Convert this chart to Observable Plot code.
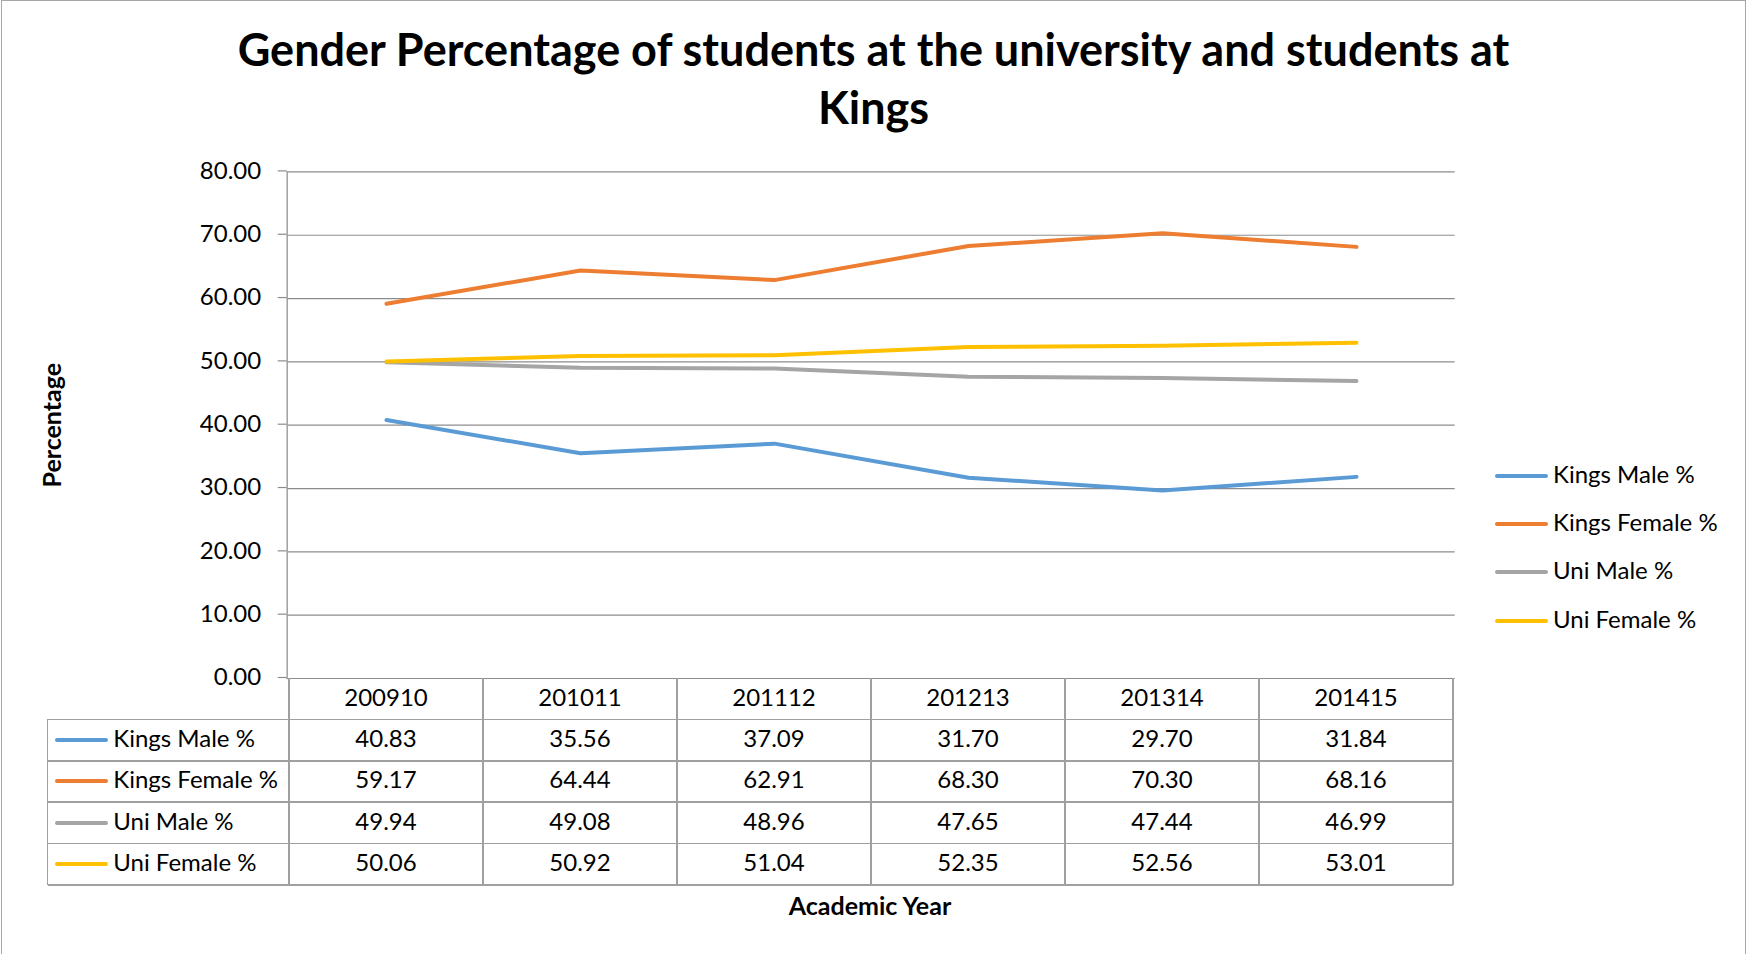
<!DOCTYPE html>
<html>
<head>
<meta charset="utf-8">
<script src="https://cdn.jsdelivr.net/npm/d3@7"></script>
<script src="https://cdn.jsdelivr.net/npm/@observablehq/plot@0.6"></script>
<style>
  html, body { margin: 0; padding: 0; background: #fff; }
  #wrap { position: relative; width: 1747px; height: 954px; overflow: hidden; font-family: Lato, "Open Sans", sans-serif; color: #000; background: #fff; }
  #border { position: absolute; left: 1px; top: 0px; width: 1743px; height: 960px; border: 1.5px solid #a6a6a6; pointer-events: none; }
  #title { height: 150px; box-sizing: border-box; padding-top: 20.3px; text-align: center; font-weight: bold; font-size: 45px; line-height: 58px; }
  #chart svg { display: block; }
  .hline { position: absolute; height: 1.5px; background: #a0a0a0; }
  .vline { position: absolute; width: 1.5px; background: #a0a0a0; }
  .cell { position: absolute; display: flex; align-items: center; justify-content: center; font-size: 24px; white-space: nowrap; }
  .lcell { position: absolute; display: flex; align-items: center; font-size: 24px; white-space: nowrap; }
  .txt { position: relative; top: -2.5px; }
  .swatch { display: inline-block; height: 4px; border-radius: 2px; }
</style>
</head>
<body>
<div id="wrap">
  <div id="title">Gender Percentage of students at the university and students at<br>Kings</div>
  <div id="chart"></div>
  <div id="border"></div>
</div>
<script>
// ---- data ----
const years = ["200910", "201011", "201112", "201213", "201314", "201415"];
const seriesNames = ["Kings Male %", "Kings Female %", "Uni Male %", "Uni Female %"];
const seriesColors = ["#5B9BD5", "#ED7D31", "#A5A5A5", "#FFC000"];
const kingsMale = [40.83, 35.56, 37.09, 31.70, 29.70, 31.84];
const kingsFemale = [59.17, 64.44, 62.91, 68.30, 70.30, 68.16];
const uniMale = [49.94, 49.08, 48.96, 47.65, 47.44, 46.99];
const uniFemale = [50.06, 50.92, 51.04, 52.35, 52.56, 53.01];
const yTicks = [0, 10, 20, 30, 40, 50, 60, 70, 80];
const yLabel = "Percentage";
const xLabel = "Academic Year";

const seriesValues = [kingsMale, kingsFemale, uniMale, uniFemale];
const data = seriesNames.flatMap((s, i) => years.map((y, j) => ({ year: y, series: s, value: seriesValues[i][j] })));

const TITLE_H = 150;
const gray = "#8c8c8c";

const chart = Plot.plot({
  width: 1747,
  height: 804,
  marginLeft: 286.7,
  marginRight: 292.3,
  marginTop: 21.4,
  marginBottom: 276,
  style: { fontFamily: "Lato, 'Open Sans', sans-serif", fontSize: "24px", color: "#000", background: "transparent", overflow: "visible" },
  x: { type: "point", domain: years, padding: 0.5, axis: null },
  y: { domain: [0, 80], axis: null },
  color: { domain: seriesNames, range: seriesColors },
  marks: [
    Plot.gridY(yTicks, { stroke: gray, strokeOpacity: 1, strokeWidth: 1.2 }),
    Plot.axisY(yTicks, { tickSize: 9, tickPadding: 17, stroke: gray, strokeWidth: 1.2, fill: "#000", tickFormat: d => d.toFixed(2), label: null, fontSize: 24, dy: -1 }),
    Plot.frame({ anchor: "left", stroke: "#a0a0a0", strokeWidth: 1.5 }),
    Plot.line(data, { x: "year", y: "value", stroke: "series", strokeWidth: 4, strokeLinecap: "round", strokeLinejoin: "round" }),
    Plot.text([yLabel], { frameAnchor: "left", dx: -234, rotate: -90, textAnchor: "middle", fontWeight: "bold", fontSize: 25, fill: "#000" })
  ]
});
document.getElementById("chart").appendChild(chart);

// ---- data table & legend, positioned from the chart's scales ----
const wrap = document.getElementById("wrap");
const xs = chart.scale("x");
const ys = chart.scale("y");
const step = xs.apply(years[1]) - xs.apply(years[0]);
const colLeft0 = xs.apply(years[0]) - step / 2;
const colRight = xs.apply(years[years.length - 1]) + step / 2;
const tableTop = ys.apply(0) + TITLE_H;
const rowH = 41.4;
const tableLeft = 47.5;

function add(cls, style, html) {
  const d = document.createElement("div");
  d.className = cls;
  Object.assign(d.style, style);
  if (html !== undefined) d.innerHTML = html;
  wrap.appendChild(d);
  return d;
}
const nRows = seriesNames.length;
for (let r = 1; r <= nRows + 1; r++) {
  const y = tableTop + r * rowH;
  add("hline", { left: tableLeft + "px", top: (y - 0.75) + "px", width: (colRight - tableLeft) + "px" });
}
add("vline", { left: (tableLeft - 0.75) + "px", top: (tableTop + rowH) + "px", height: (nRows * rowH) + "px" });
for (let c = 0; c <= years.length; c++) {
  const x = colLeft0 + c * step;
  add("vline", { left: (x - 0.75) + "px", top: tableTop + "px", height: ((nRows + 1) * rowH) + "px" });
}
years.forEach((yr, c) => {
  add("cell", { left: (colLeft0 + c * step) + "px", top: tableTop + "px", width: step + "px", height: rowH + "px" }, `<span class="txt">${yr}</span>`);
});
seriesNames.forEach((s, i) => {
  const top = tableTop + (i + 1) * rowH;
  add("lcell", { left: (tableLeft + 7.2) + "px", top: top + "px", height: rowH + "px" },
    `<span class="swatch" style="width:53.6px;background:${seriesColors[i]};margin-right:5px"></span><span class="txt">${s}</span>`);
  seriesValues[i].forEach((v, c) => {
    add("cell", { left: (colLeft0 + c * step) + "px", top: top + "px", width: step + "px", height: rowH + "px" }, `<span class="txt">${v.toFixed(2)}</span>`);
  });
});
// legend
const legendX = 1495, legendY0 = 476, legendDy = 48.2;
seriesNames.forEach((s, i) => {
  add("lcell", { left: legendX + "px", top: (legendY0 + i * legendDy - 20) + "px", height: "40px" },
    `<span class="swatch" style="width:53px;background:${seriesColors[i]};margin-right:5px"></span><span class="txt">${s}</span>`);
});
// x label
add("", { position: "absolute", left: "870px", top: "905px", transform: "translate(-50%,-50%)", fontWeight: "bold", fontSize: "25px", whiteSpace: "nowrap" }, xLabel);
</script>
</body>
</html>
